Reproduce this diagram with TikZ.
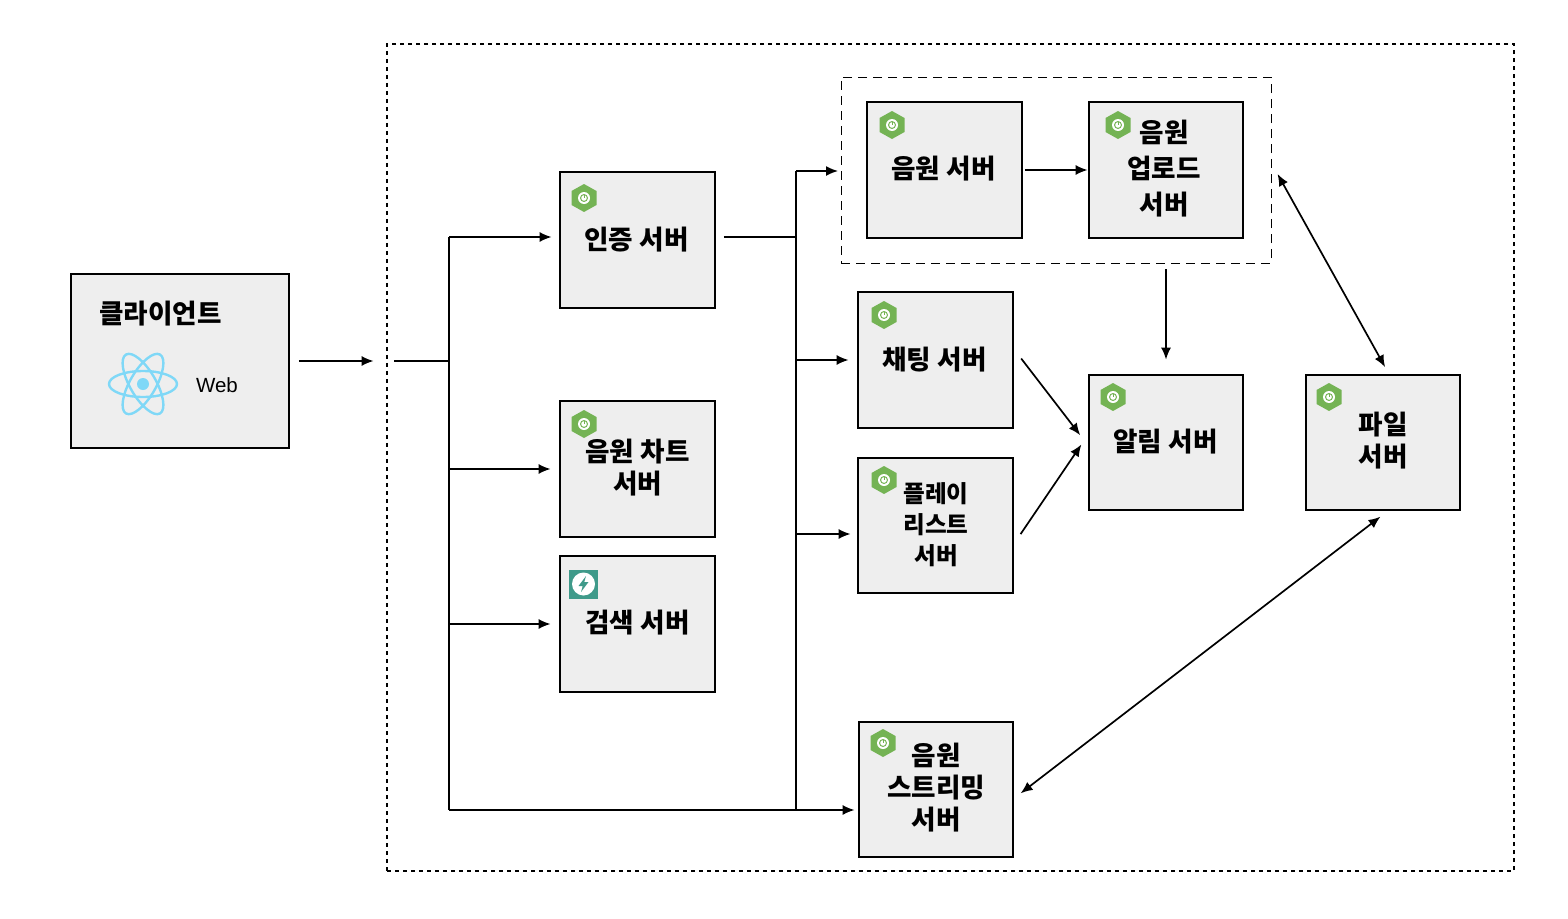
\documentclass[tikz,border=0pt]{standalone}
\usepackage{fontspec}
\setmainfont{Noto Sans CJK KR}
\newfontfamily\webfont{Liberation Sans}
\usetikzlibrary{arrows.meta}
\definecolor{boxgray}{HTML}{EEEEEE}
\definecolor{springgreen}{HTML}{74B354}
\definecolor{elastic}{HTML}{3F9A8A}
\definecolor{reactblue}{HTML}{7FD8F7}
\tikzset{
    server/.style={draw, line width=1.7pt, fill=boxgray, minimum width=155pt, minimum height=136pt, inner sep=0pt},
    boxlabel/.style={font=\fontsize{26.6}{32}\selectfont\bfseries, align=center, inner sep=0pt},
    flow/.style={line width=1.7pt, -{Latex[length=12pt,width=10pt]}},
    both/.style={line width=1.7pt, {Latex[length=12pt,width=10pt]}-{Latex[length=12pt,width=10pt]}},
    bus/.style={line width=1.7pt},
    spring/.pic={
        \fill[springgreen] (0,-14) -- (12.5,-7) -- (12.5,7) -- (0,14) -- (-12.5,7) -- (-12.5,-7) -- cycle;
        \fill[white] (0,0) circle (6pt);
        \fill[springgreen] (0,0) circle (4pt);
        \fill[white] (0,0) circle (2.8pt);
        \draw[springgreen, line width=0.7pt] (0,-2.8) -- (0,0);
    }
}
\begin{document}
\begin{tikzpicture}[x=1pt, y=-1pt]
    \useasboundingbox (0,0) rectangle (1568,918);

    % Regions
    \node[draw, line width=1.7pt, dash pattern=on 4pt off 4pt, minimum width=1127pt, minimum height=827pt, inner sep=0pt] (outer) at (950.5,457.5) {};
    \node[draw, line width=0.9pt, dash pattern=on 9pt off 6pt, minimum width=430pt, minimum height=186pt, inner sep=0pt] (group) at (1056,170) {};

    % Client
    \node[server, minimum width=218pt, minimum height=174pt] (client) at (180,361) {};
    \node[boxlabel] (clientlabel) at (160.5,314) {클라이언트};
    \begin{scope}[shift={(143,384)}]
        \draw[reactblue, line width=2.4pt] (0,0) ellipse (34pt and 13pt);
        \draw[reactblue, line width=2.4pt, rotate=60] (0,0) ellipse (34pt and 13pt);
        \draw[reactblue, line width=2.4pt, rotate=120] (0,0) ellipse (34pt and 13pt);
        \fill[reactblue] (0,0) circle (6pt);
    \end{scope}
    \node[font=\webfont\fontsize{20.5}{24}\selectfont, inner sep=0pt] (weblabel) at (217,385) {Web};

    % Servers
    \node[server] (auth) at (637.5,240) {};
    \node[server] (chart) at (637.5,469) {};
    \node[server] (search) at (637.5,624) {};
    \node[server] (music) at (944.5,170) {};
    \node[server, minimum width=154pt] (upload) at (1166,170) {};
    \node[server] (chat) at (935.5,360) {};
    \node[server, minimum height=135pt] (playlist) at (935.5,525.5) {};
    \node[server, minimum width=154pt, minimum height=135pt] (alarm) at (1166,442.5) {};
    \node[server, minimum width=154pt, minimum height=135pt] (file) at (1383,442.5) {};
    \node[server, minimum width=154pt, minimum height=135pt] (stream) at (936,789.5) {};

    % Labels
    \node[boxlabel] (authlabel) at (636.5,240) {인증 서버};
    \node[boxlabel] (chartlabel) at (637.5,468) {음원 차트\\서버};
    \node[boxlabel] (searchlabel) at (637.5,623) {검색 서버};
    \node[boxlabel] (musiclabel) at (943.5,169) {음원 서버};
    \node[boxlabel, font=\fontsize{26.6}{36}\selectfont\bfseries] (uploadlabel) at (1164,168.5) {음원\\업로드\\서버};
    \node[boxlabel] (chatlabel) at (934.5,360) {채팅 서버};
    \node[boxlabel, font=\fontsize{23.6}{31}\selectfont\bfseries] (playlistlabel) at (936,524.5) {플레이\\리스트\\서버};
    \node[boxlabel] (alarmlabel) at (1165.5,442) {알림 서버};
    \node[boxlabel] (filelabel) at (1383,441) {파일\\서버};
    \node[boxlabel] (streamlabel) at (936,788) {음원\\스트리밍\\서버};

    % Icons
    \pic at (584,198) {spring};
    \pic at (584,424) {spring};
    \pic at (892,125) {spring};
    \pic at (1118,125) {spring};
    \pic at (884,315) {spring};
    \pic at (884,480) {spring};
    \pic at (1113,397) {spring};
    \pic at (1329,397) {spring};
    \pic at (883,743) {spring};
    \begin{scope}[shift={(583.5,584)}]
        \fill[elastic] (-14.5,-14.5) rectangle (14.5,14.5);
        \fill[white] (0,0) circle (11.5pt);
        \fill[elastic] (2.5,-8) -- (-5,2) -- (-0.8,2) -- (-2.5,8) -- (5,-2) -- (0.8,-2) -- cycle;
    \end{scope}

    % Bus coordinates
    \coordinate (leftin) at (394,361);
    \coordinate (lefttop) at (449,237);
    \coordinate (leftmid) at (449,361);
    \coordinate (leftchart) at (449,469);
    \coordinate (leftsearch) at (449,624);
    \coordinate (leftbottom) at (449,810);
    \coordinate (righttop) at (796,171);
    \coordinate (rightauth) at (796,237);
    \coordinate (rightchat) at (796,360);
    \coordinate (rightlist) at (796,534);
    \coordinate (rightbottom) at (796,810);

    % Left bus
    \draw[flow, shorten <=9pt, shorten >=12.5pt] (client.east) -- (outer.west |- client.east);
    \draw[bus] (leftin) -- (leftmid);
    \draw[bus] (lefttop) -- (leftbottom);
    \draw[flow, shorten >=7.5pt] (lefttop) -- (lefttop -| auth.west);
    \draw[flow, shorten >=8.5pt] (leftchart) -- (chart.west);
    \draw[flow, shorten >=8.5pt] (leftsearch) -- (search.west);
    \draw[flow, shorten >=3.5pt] (leftbottom) -- (leftbottom -| stream.west);

    % Right bus
    \draw[bus, shorten <=8pt] (rightauth -| auth.east) -- (rightauth);
    \draw[bus] (righttop) -- (rightbottom);
    \draw[flow, shorten >=2.5pt] (righttop) -- (righttop -| group.west);
    \draw[flow, shorten >=8.5pt] (rightchat) -- (chat.west);
    \draw[flow, shorten >=6.5pt] (rightlist) -- (rightlist -| playlist.west);

    % Between servers
    \draw[flow, shorten <=2pt, shorten >=0.5pt] (music.east) -- (upload.west);
    \draw[flow, shorten <=6pt, shorten >=14.5pt] (group.south -| alarm.north) -- (alarm.north);
    \draw[flow, shorten <=12pt, shorten >=13pt] ([yshift=11pt]chat.east) -- ([yshift=-3pt]alarm.west);
    \draw[flow, shorten <=12pt, shorten >=12pt] ([yshift=-18.5pt]playlist.east) -- ([yshift=8pt]alarm.west);
    \draw[both, shorten <=12.5pt, shorten >=8pt] ([yshift=7pt]group.east) -- ([xshift=6pt]file.north);
    \draw[both, shorten <=9.5pt, shorten >=8.5pt] ([xshift=5pt]file.south) -- ([yshift=-9pt]stream.east);
\end{tikzpicture}
\end{document}
